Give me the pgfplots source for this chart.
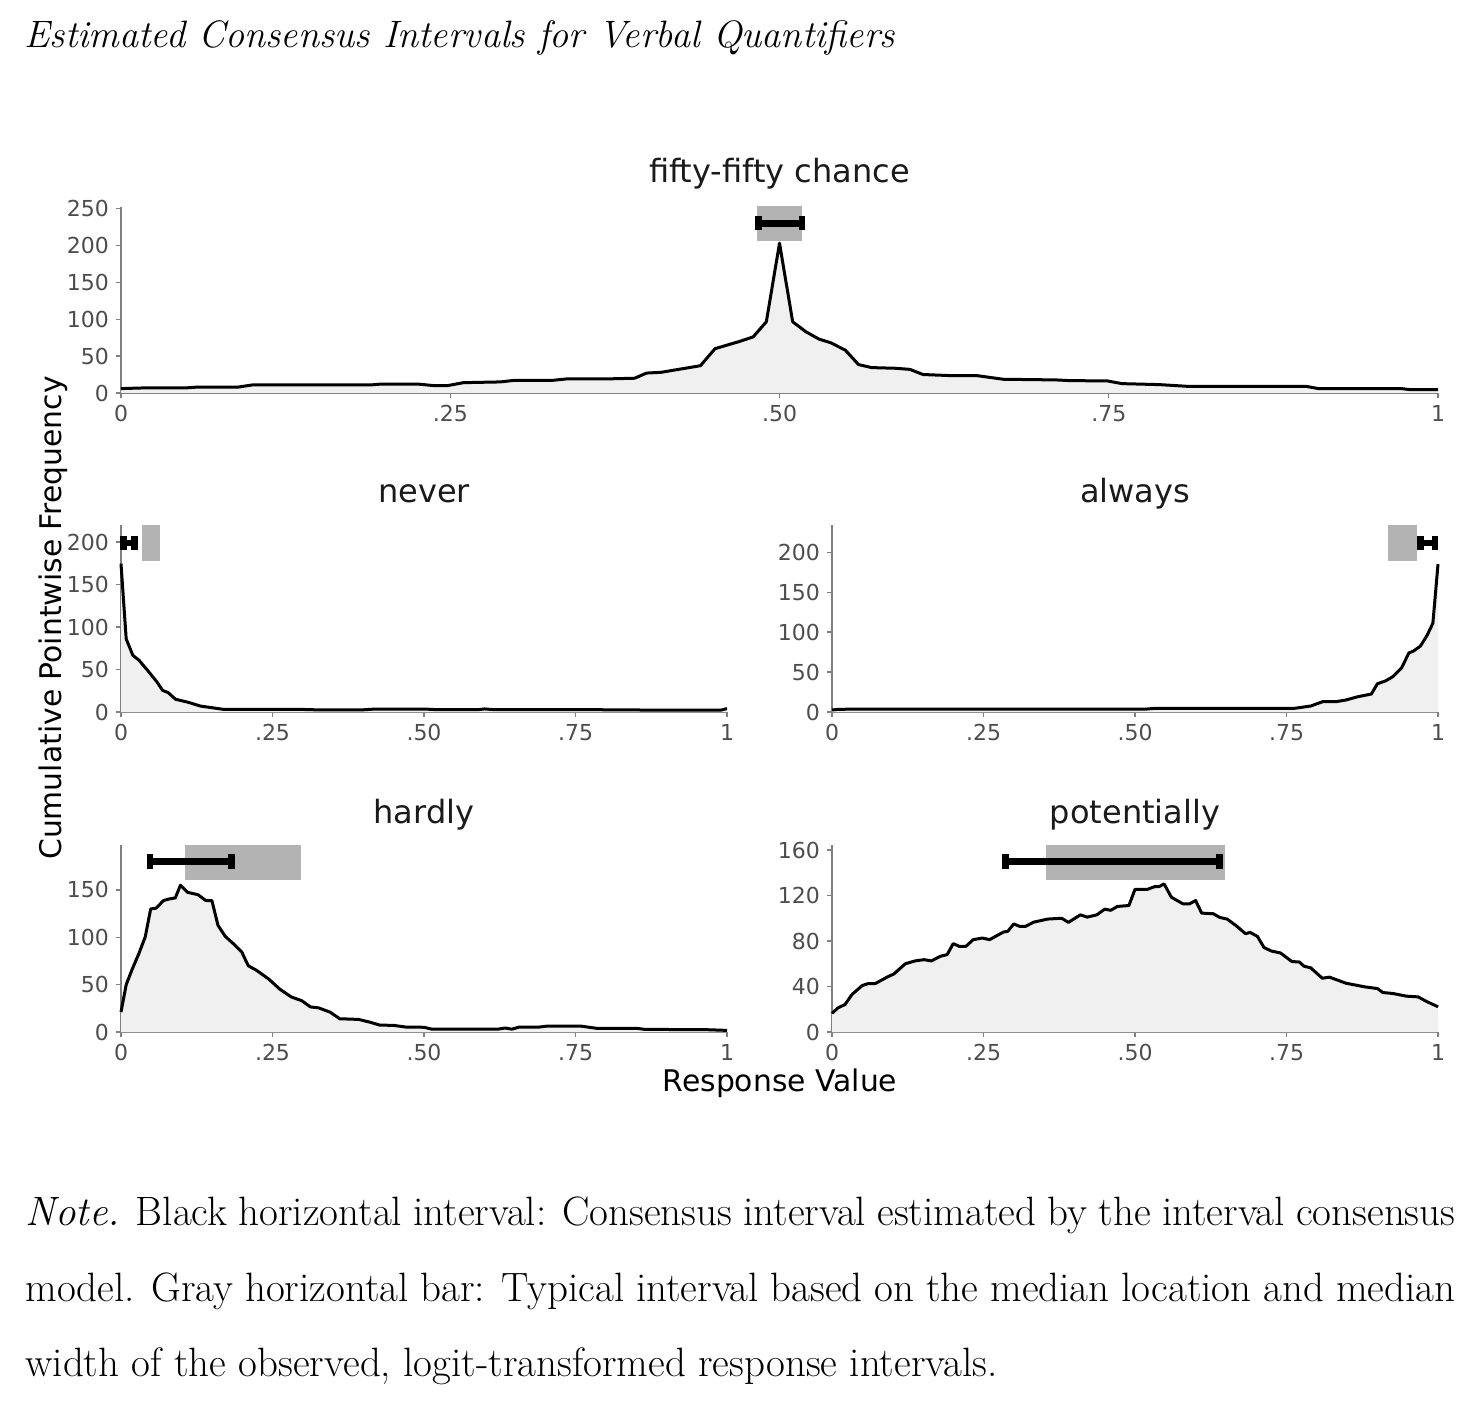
\documentclass[border=0pt]{standalone}
\usepackage{fontspec}
\usepackage{pgfplots}
\usepackage{pgfplotstable}
\pgfplotsset{compat=1.18}
\newfontfamily\chartfont{DejaVu Sans}
\definecolor{axgray}{RGB}{128,128,128}
\definecolor{tickgray}{RGB}{77,77,77}
\definecolor{fillgray}{RGB}{240,240,240}
\definecolor{barfill}{RGB}{179,179,179}
\definecolor{txt}{RGB}{26,26,26}

\pgfplotstableread{
x y
0 6
0.02 7
0.05 7
0.058 8
0.089 8
0.10 11
0.19 11
0.197 12
0.226 12
0.2375 10
0.248 10
0.26 14
0.288 15
0.298 17
0.327 17
0.338 19
0.367 19
0.39 20
0.399 27
0.41 28
0.44 37
0.451 60
0.4623 66
0.47 70
0.480 76
0.490 96.5
0.500 203
0.510 96.5
0.520 83
0.530 73
0.539 68
0.550 58
0.560 38.5
0.570 34.4
0.588 33.5
0.599 32
0.609 25
0.631 23.5
0.650 23.5
0.670 18.6
0.710 17.7
0.720 16.8
0.749 16.3
0.760 12.7
0.789 11.3
0.810 9
0.900 9
0.909 6
0.972 6
0.979 4.5
1.000 4.5
}\fifty

\pgfplotstableread{
x y
0 174.5
0.0086 86
0.0195 66.7
0.0296 61
0.045 48
0.059 35.7
0.0686 25.5
0.078 22.7
0.09 15
0.111 11.4
0.131 7
0.17 3
0.3 3
0.32 2.6
0.40 2.6
0.42 3.5
0.50 3.5
0.52 2.8
0.59 2.8
0.6 3.6
0.615 2.8
0.85 2.6
0.86 2.2
0.99 2.2
1.0 4
}\never

\pgfplotstableread{
x y
0 2.5
0.01 3.3
0.048 3.75
0.52 3.75
0.53 4.4
0.763 4.6
0.79 7.5
0.81 13
0.832 13
0.848 15
0.867 19
0.89 22.5
0.9 35.4
0.913 38.75
0.925 44
0.94 55.4
0.952 74
0.959 76
0.971 82.5
0.982 96
0.9915 111
1.0 185
}\always

\pgfplotstableread{
x y
0 21
0.0086 50
0.018 65.6
0.0296 83
0.04 100.5
0.049 130
0.058 130.8
0.07 138.8
0.08 140.6
0.0896 141.6
0.098 155
0.11 147.5
0.127 145
0.14 138.8
0.15 138.8
0.16 112.7
0.172 101
0.185 93.5
0.199 84.8
0.21 70
0.224 65
0.244 55.8
0.262 45.3
0.281 37
0.2985 33
0.3125 26.5
0.326 25.5
0.345 21
0.361 14
0.392 13.3
0.41 10.5
0.427 7.3
0.45 7
0.47 5.2
0.5 5
0.513 3
0.622 3
0.634 4.2
0.645 3
0.657 5.2
0.69 5.2
0.704 6.3
0.758 6.3
0.786 3.8
0.852 3.8
0.864 2.8
0.969 2.4
1.0 1.7
}\hardly

\pgfplotstableread{
x y
0 16.4
0.01 21.3
0.0215 24.2
0.033 33
0.05 40.9
0.06 42.6
0.0715 42.6
0.0907 48.2
0.102 51
0.121 60
0.137 62.5
0.152 63.6
0.164 62.5
0.179 66.6
0.19 68
0.2 77.7
0.21 75.3
0.221 75.3
0.233 81.2
0.248 82.6
0.26 81.2
0.283 87.9
0.29 88.5
0.3 95
0.31 92.8
0.319 92.8
0.333 96.6
0.356 99.3
0.379 100
0.39 96.4
0.41 103
0.421 101
0.437 103
0.45 108
0.46 107
0.471 110.4
0.49 111.2
0.5 125.5
0.521 125.5
0.533 127.9
0.54 127.9
0.548 130.2
0.56 118.5
0.579 112.7
0.59 112.7
0.6 115.6
0.61 104.5
0.629 104
0.64 100.7
0.652 99.3
0.667 93.4
0.6825 86.4
0.69 87.6
0.702 84
0.713 74.2
0.725 71.2
0.74 69.5
0.759 61.9
0.771 61.6
0.779 57.8
0.79 56.4
0.809 47.3
0.821 48.2
0.848 42.9
0.879 39.7
0.9 38.2
0.909 34.7
0.925 33.9
0.948 31.5
0.967 30.9
0.982 26.6
1.0 22.2
}\potent

\pgfplotsset{
  panel/.style={
    scale only axis,
    anchor=south west,
    width=303pt, height=93.5pt,
    axis x line=bottom, axis y line=left,
    axis line style={draw=axgray, line width=0.6pt, -},
    xmin=0, xmax=1, ymin=0,
    xtick={0,0.25,0.5,0.75,1},
    xticklabels={0,.25,.50,.75,1},
    tick align=outside,
    major tick length=2.5pt,
    tick style={draw=axgray, line width=0.6pt},
    ticklabel style={font=\chartfont\fontsize{11}{13}\selectfont, text=tickgray},
    /pgf/number format/assume math mode=true,
    clip=false,
    every axis title/.style={at={(0.5,1)}, anchor=base, yshift=11pt, font=\chartfont\fontsize{16}{19}\selectfont, text=txt},
  },
  area/.style={draw=none, fill=fillgray, forget plot},
  curve/.style={black, line width=1.5pt, line join=round},
  gbar/.style={draw=none, fill=barfill},
  cint/.style={black, line width=3.3pt, mark=|, mark size=3.6pt, mark options={line width=3.3pt, solid}},
}

\begin{document}
\begin{tikzpicture}
\useasboundingbox (0,0) rectangle (735.5pt,705pt);

% overall title
\node[anchor=base west, inner sep=0pt, font=\fontsize{19.1}{23}\selectfont\itshape] at (12pt,681pt)
  {Estimated Consensus Intervals for Verbal Quantifiers};

% fifty-fifty chance
\begin{axis}[panel, at={(60.5pt,508.5pt)}, width=658.5pt, height=93pt, ymax=252,
  ytick={0,50,100,150,200,250}, title={fifty-fifty chance}, every axis title/.append style={yshift=1pt}]
  \addplot[area] table[x=x,y=y]{\fifty} \closedcycle;
  \addplot[curve] table[x=x,y=y]{\fifty};
  \addplot[gbar] coordinates {(0.483,206.5) (0.517,206.5) (0.517,254) (0.483,254)};
  \addplot[cint] coordinates {(0.4839,230) (0.5172,230)};
\end{axis}

% never
\begin{axis}[panel, at={(60.5pt,349pt)}, ymax=220,
  ytick={0,50,100,150,200}, title={never}]
  \addplot[area] table[x=x,y=y]{\never} \closedcycle;
  \addplot[curve] table[x=x,y=y]{\never};
  \addplot[gbar] coordinates {(0.035,178) (0.064,178) (0.064,220) (0.035,220)};
  \addplot[cint] coordinates {(0.004,199) (0.022,199)};
\end{axis}

% always
\begin{axis}[panel, at={(416pt,349pt)}, ymax=234,
  ytick={0,50,100,150,200}, title={always}]
  \addplot[area] table[x=x,y=y]{\always} \closedcycle;
  \addplot[curve] table[x=x,y=y]{\always};
  \addplot[gbar] coordinates {(0.917,189) (0.966,189) (0.966,234) (0.917,234)};
  \addplot[cint] coordinates {(0.971,211.5) (0.995,211.5)};
\end{axis}

% hardly
\begin{axis}[panel, at={(60.5pt,189pt)}, ymax=197.5,
  ytick={0,50,100,150}, title={hardly}]
  \addplot[area] table[x=x,y=y]{\hardly} \closedcycle;
  \addplot[curve] table[x=x,y=y]{\hardly};
  \addplot[gbar] coordinates {(0.106,160.6) (0.297,160.6) (0.297,197.5) (0.106,197.5)};
  \addplot[cint] coordinates {(0.048,180) (0.182,180)};
\end{axis}

% potentially
\begin{axis}[panel, at={(416pt,189pt)}, ymax=164.4,
  ytick={0,40,80,120,160}, title={potentially}]
  \addplot[area] table[x=x,y=y]{\potent} \closedcycle;
  \addplot[curve] table[x=x,y=y]{\potent};
  \addplot[gbar] coordinates {(0.353,133.6) (0.648,133.6) (0.648,164.4) (0.353,164.4)};
  \addplot[cint] coordinates {(0.2866,150) (0.6394,150)};
\end{axis}

% shared axis labels
\node[anchor=base, inner sep=0pt, text=black, font=\chartfont\fontsize{14.9}{18}\selectfont] at (390pt,159.2pt) {Response Value};
\node[anchor=base, rotate=90, inner sep=0pt, text=black, font=\chartfont\fontsize{14.9}{18}\selectfont] at (31pt,396pt) {Cumulative Pointwise Frequency};

% note
\node[anchor=base west, inner sep=0pt, font=\fontsize{20.5}{24}\selectfont] at (12.5pt,92.5pt)
  {\makebox[715pt][s]{\textit{Note.} Black horizontal interval: Consensus interval estimated by the interval consensus}};
\node[anchor=base west, inner sep=0pt, font=\fontsize{20.5}{24}\selectfont] at (12.5pt,54.15pt)
  {\makebox[715pt][s]{model. Gray horizontal bar: Typical interval based on the median location and median}};
\node[anchor=base west, inner sep=0pt, font=\fontsize{20.5}{24}\selectfont] at (12.5pt,16.65pt)
  {width of the observed, logit-transformed response intervals.};
\end{tikzpicture}
\end{document}
